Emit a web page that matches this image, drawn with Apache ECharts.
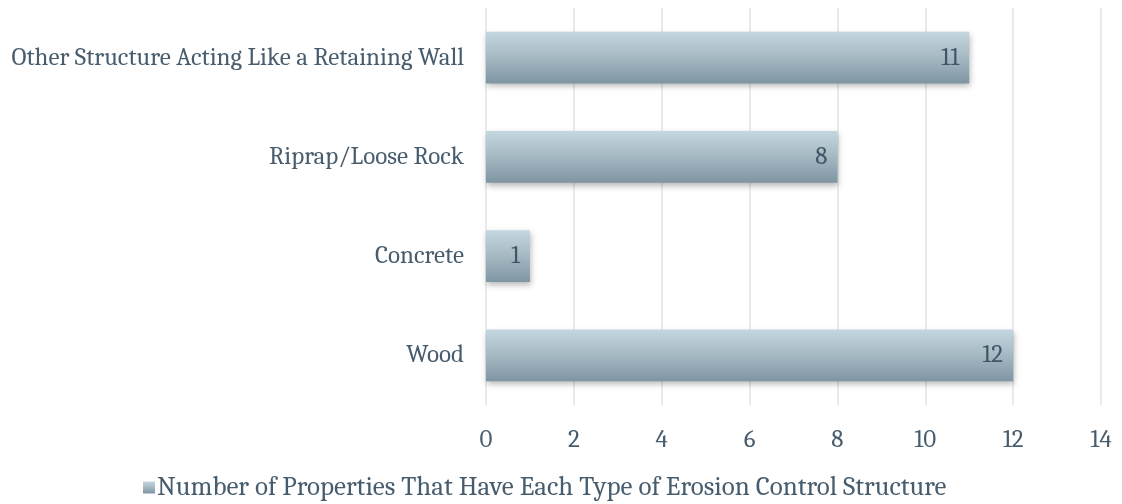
<!DOCTYPE html>
<html><head><meta charset="utf-8">
<script src="https://cdn.jsdelivr.net/npm/echarts@6/dist/echarts.min.js"></script>
<style>html,body{margin:0;padding:0;background:#fff}#c{width:1122px;height:504px}</style>
</head><body><div id="c"></div>
<script>
const categories = ["Wood", "Concrete", "Riprap/Loose Rock", "Other Structure Acting Like a Retaining Wall"];
const values = [12, 1, 8, 11];
const seriesName = "Number of Properties That Have Each Type of Erosion Control Structure";
const xTicks = [0, 2, 4, 6, 8, 10, 12, 14];

const font = "Cambria, 'DejaVu Serif', 'Liberation Serif', serif";
const textColor = "#475d6e";
const grad = new echarts.graphic.LinearGradient(0, 0, 0, 1, [
  {offset: 0, color: "#c4d6df"},
  {offset: 0.45, color: "#a9bcc6"},
  {offset: 1, color: "#7e95a2"}
]);
const chart = echarts.init(document.getElementById('c'));
chart.setOption({
  animation: false,
  textStyle: {fontFamily: font},
  grid: {left: 486, right: 21, top: 8, bottom: 99, containLabel: false},
  legend: {
    bottom: 3, left: 143, padding: 0,
    data: [{name: seriesName, icon: 'rect'}],
    itemWidth: 12, itemHeight: 12, itemGap: 3,
    textStyle: {fontFamily: font, fontSize: 27, color: textColor, padding: [0, 0, 0, -3]}
  },
  xAxis: {
    type: 'value', min: xTicks[0], max: xTicks[xTicks.length - 1], interval: 2,
    axisLine: {show: false}, axisTick: {show: false},
    splitLine: {lineStyle: {color: "#dfe5ea", width: 1.5}},
    axisLabel: {fontFamily: font, fontSize: 25, color: textColor, margin: 22}
  },
  yAxis: {
    type: 'category', data: categories,
    axisLine: {show: false}, axisTick: {show: false},
    axisLabel: {fontFamily: font, fontSize: 25, color: textColor, margin: 22}
  },
  series: [{
    name: seriesName, type: 'bar', data: values,
    barCategoryGap: '48%',
    itemStyle: {color: grad, shadowColor: 'rgba(0,0,0,0.28)', shadowBlur: 6, shadowOffsetY: 3, shadowOffsetX: 1},
    label: {show: true, position: 'insideRight', distance: 10, fontFamily: font, fontSize: 25, color: "#3f5667"}
  }]
});
</script></body></html>
